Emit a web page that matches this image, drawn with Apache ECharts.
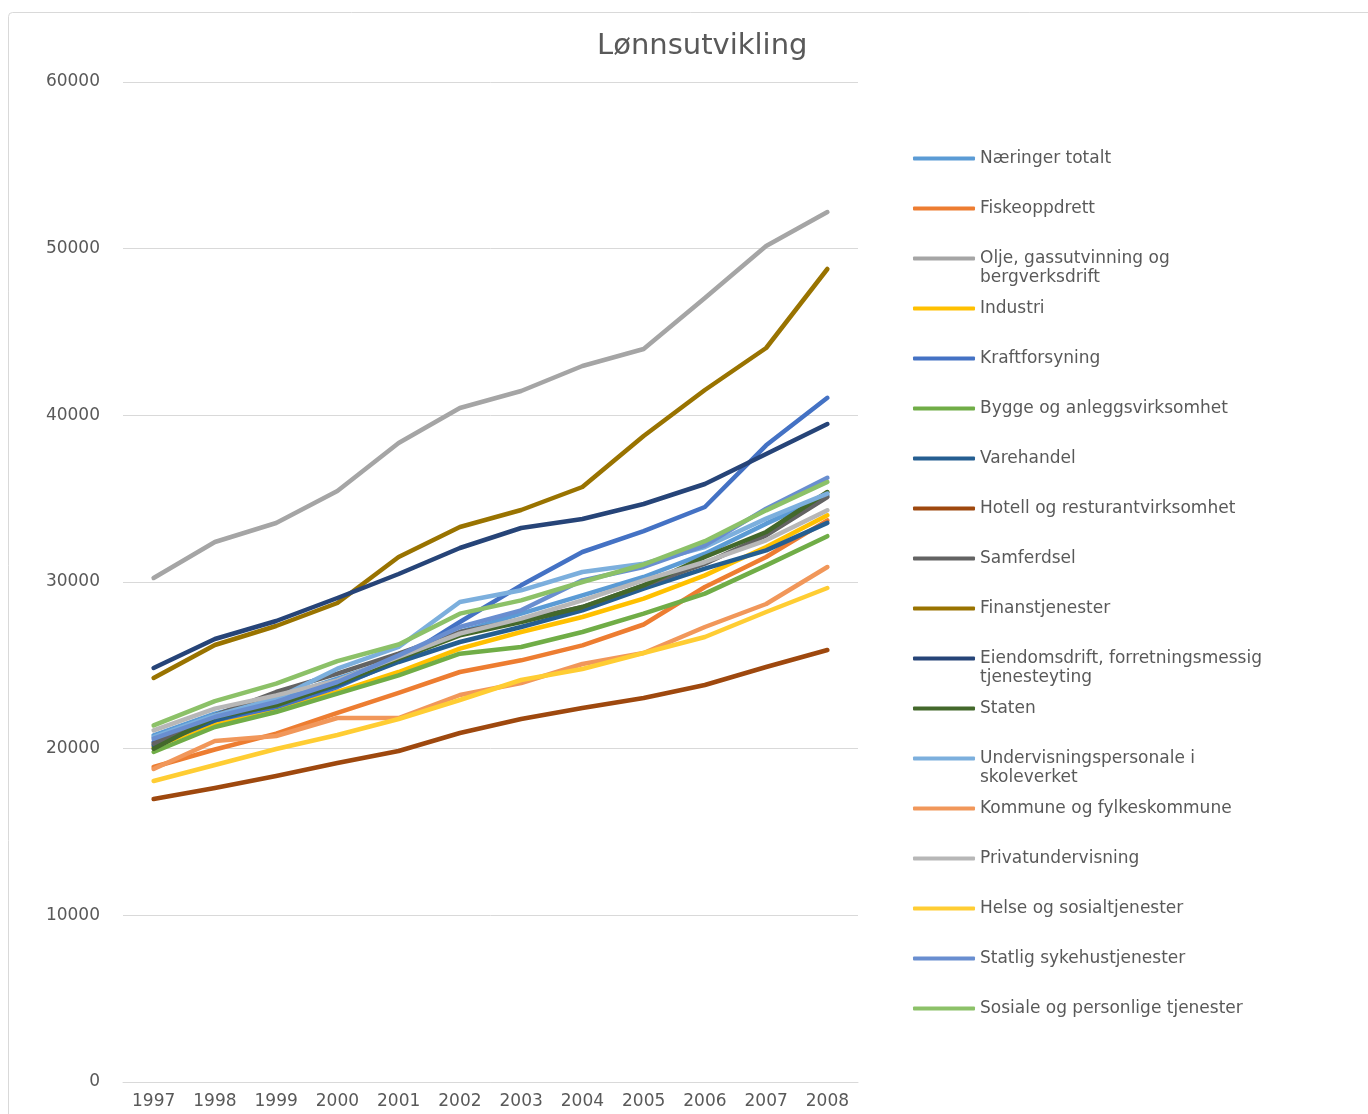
<!DOCTYPE html>
<html>
<head>
<meta charset="utf-8">
<title>Lønnsutvikling</title>
<script src="https://cdn.jsdelivr.net/npm/echarts@6/dist/echarts.min.js"></script>
<style>
  html, body { margin: 0; padding: 0; background: #ffffff; }
  #chart { width: 1368px; height: 1114px; }
</style>
</head>
<body>
<div id="chart"></div>
<script>
// Years on the category axis
const years = ['1997', '1998', '1999', '2000', '2001', '2002', '2003', '2004', '2005', '2006', '2007', '2008'];

// Monthly wage per sector (NOK)
const naeringerTotalt   = [20800, 22100, 23000, 24200, 25400, 27000, 28100, 29200, 30300, 31700, 33500, 35200];
const fiskeoppdrett     = [18900, 19950, 20900, 22150, 23350, 24600, 25300, 26200, 27450, 29700, 31500, 33700];
const oljeGass          = [30240, 32400, 33540, 35460, 38340, 40440, 41460, 42960, 43980, 47040, 50160, 52200];
const industri          = [20100, 21500, 22400, 23400, 24600, 26000, 27000, 27900, 29000, 30400, 32100, 34000];
const kraftforsyning    = [20400, 21700, 22500, 23700, 25300, 27600, 29800, 31800, 33050, 34500, 38200, 41050];
const bygge             = [19800, 21300, 22200, 23300, 24400, 25700, 26100, 27000, 28100, 29300, 31000, 32750];
const varehandel        = [20200, 21700, 22700, 23800, 25200, 26400, 27300, 28300, 29600, 30800, 31900, 33550];
const hotell            = [16980, 17640, 18360, 19140, 19860, 20940, 21780, 22440, 23040, 23820, 24900, 25920];
const samferdsel        = [20300, 22000, 23400, 24500, 25700, 27000, 27700, 28500, 29800, 31100, 32800, 35100];
const finans            = [24240, 26220, 27360, 28740, 31500, 33300, 34320, 35700, 38760, 41520, 44040, 48780];
const eiendomsdrift     = [24840, 26580, 27660, 29040, 30480, 32040, 33240, 33780, 34680, 35880, 37680, 39480];
const staten            = [20000, 21900, 22600, 23900, 25400, 26800, 27600, 28500, 29800, 31500, 33000, 35400];
const undervisning      = [20700, 22000, 23000, 24800, 26100, 28800, 29500, 30600, 31100, 32100, 33800, 35300];
const kommune           = [18780, 20460, 20760, 21840, 21840, 23220, 23940, 25080, 25740, 27300, 28680, 30900];
const privatundervisning= [21100, 22400, 23200, 24100, 25500, 26900, 27800, 28900, 30100, 31200, 32500, 34300];
const helse             = [18060, 19020, 19980, 20820, 21780, 22920, 24120, 24780, 25740, 26700, 28200, 29640];
const statligSykehus    = [20600, 21900, 22800, 24000, 25600, 27300, 28300, 30100, 30900, 32200, 34400, 36250];
const sosiale           = [21400, 22850, 23900, 25250, 26250, 28100, 28900, 30000, 31050, 32450, 34300, 36000];

// Series names (legend order)
const names = [
  'Næringer totalt', 'Fiskeoppdrett', 'Olje, gassutvinning og bergverksdrift', 'Industri',
  'Kraftforsyning', 'Bygge og anleggsvirksomhet', 'Varehandel', 'Hotell og resturantvirksomhet',
  'Samferdsel', 'Finanstjenester', 'Eiendomsdrift, forretningsmessig tjenesteyting', 'Staten',
  'Undervisningspersonale i skoleverket', 'Kommune og fylkeskommune', 'Privatundervisning',
  'Helse og sosialtjenester', 'Statlig sykehustjenester', 'Sosiale og personlige tjenester'
];
const values = [
  naeringerTotalt, fiskeoppdrett, oljeGass, industri, kraftforsyning, bygge, varehandel, hotell,
  samferdsel, finans, eiendomsdrift, staten, undervisning, kommune, privatundervisning, helse,
  statligSykehus, sosiale
];
const colors = [
  '#5B9BD5', '#ED7D31', '#A5A5A5', '#FFC000', '#4472C4', '#70AD47', '#255E91', '#9E480E',
  '#636363', '#997300', '#264478', '#43682B', '#7CAFDD', '#F1975A', '#B7B7B7', '#FFCD33',
  '#698ED0', '#8CC168'
];
// Legend labels that wrap onto a second line
const wrapped = {
  'Olje, gassutvinning og bergverksdrift': 'Olje, gassutvinning og\nbergverksdrift',
  'Eiendomsdrift, forretningsmessig tjenesteyting': 'Eiendomsdrift, forretningsmessig\ntjenesteyting',
  'Undervisningspersonale i skoleverket': 'Undervisningspersonale i\nskoleverket'
};

const font = 'DejaVu Sans';
const textGray = '#595959';

const chart = echarts.init(document.getElementById('chart'), null, { renderer: 'canvas' });

chart.setOption({
  backgroundColor: '#ffffff',
  animation: false,
  color: colors,
  graphic: [{
    type: 'rect',
    silent: true,
    shape: { x: 8.5, y: 12.5, width: 1400, height: 1200, r: 4 },
    style: { fill: 'none', stroke: '#d9d9d9', lineWidth: 1 }
  }],
  title: {
    text: 'Lønnsutvikling',
    left: 592,
    top: 27,
    textStyle: { fontFamily: font, fontSize: 29, fontWeight: 'normal', color: textGray }
  },
  legend: {
    orient: 'vertical',
    left: 908,
    top: 125,
    itemWidth: 62,
    itemHeight: 4,
    itemGap: -7,
    icon: 'roundRect',
    data: names,
    formatter: function (name) {
      const label = wrapped[name];
      // Pad to three lines so the marker sits level with the first line of text
      return label ? '\n' + label : '\n' + name + '\n';
    },
    textStyle: { fontFamily: font, fontSize: 17, color: textGray, lineHeight: 19 }
  },
  grid: { left: 123, right: 510, top: 82, bottom: 32, containLabel: false },
  xAxis: {
    type: 'category',
    data: years,
    boundaryGap: true,
    axisLine: { lineStyle: { color: '#d9d9d9', width: 1 } },
    axisTick: { show: false },
    axisLabel: { fontFamily: font, fontSize: 17, color: textGray, margin: 11, interval: 0 }
  },
  yAxis: {
    type: 'value',
    min: 0,
    max: 60000,
    interval: 10000,
    axisLine: { show: false },
    axisTick: { show: false },
    splitLine: { lineStyle: { color: '#d9d9d9', width: 1 } },
    axisLabel: {
      fontFamily: font, fontSize: 17, color: textGray, margin: 23,
      formatter: function (v) { return String(v); }
    }
  },
  series: names.map(function (name, i) {
    return {
      name: name,
      type: 'line',
      data: values[i],
      symbol: 'none',
      showSymbol: false,
      smooth: false,
      lineStyle: { width: 4.5, color: colors[i], cap: 'round', join: 'round' },
      itemStyle: { color: colors[i] }
    };
  })
});
</script>
</body>
</html>
